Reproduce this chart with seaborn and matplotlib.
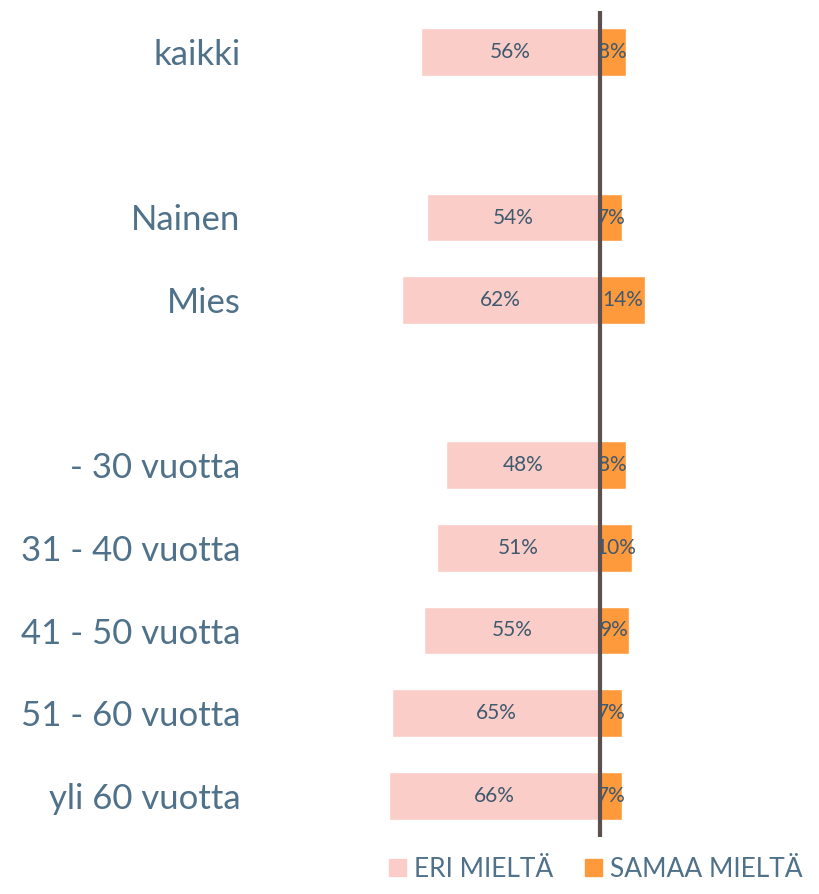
import numpy as np
import pandas as pd
import seaborn as sns
import matplotlib.pyplot as plt
from matplotlib.patches import Patch

# ---------------------------------data
categories = ["kaikki", "Nainen", "Mies", "- 30 vuotta", "31 - 40 vuotta",
              "41 - 50 vuotta", "51 - 60 vuotta", "yli 60 vuotta"]
row_pos = [0, 2, 3, 5, 6, 7, 8, 9]   # empty rows between the groups
eri = [56, 54, 62, 48, 51, 55, 65, 66]
samaa = [8, 7, 14, 8, 10, 9, 7, 7]
legend_labels = ["ERI MIELTÄ", "SAMAA MIELTÄ"]

pink = "#FBCDC9"
orange = "#FF9A3C"
text_col = "#4F7189"
num_col = "#3F5A6E"

df = pd.DataFrame({"cat": categories, "pos": row_pos,
                   "eri": [-v for v in eri], "samaa": samaa})

sns.set_style("white")
plt.rcParams['font.family'] = ['Lato', 'DejaVu Sans']

fig = plt.figure(figsize=(8.2, 8.94), dpi=100)
ax = fig.add_axes([260/820, 1 - 837/894, 560/820, 826/894])

sns.barplot(data=df, x="eri", y="pos", orient="h", native_scale=True,
            color=pink, width=0.58, saturation=1, ax=ax)
sns.barplot(data=df, x="samaa", y="pos", orient="h", native_scale=True,
            color=orange, width=0.58, saturation=1, ax=ax)

# px per percent ~3.2, zero line at x=600px
ax.set_xlim((260 - 600) / 3.2, (820 - 600) / 3.2)
ax.set_ylim(9.5, -0.5)
ax.axvline(0, color="#5E4F4F", lw=3, zorder=5)

for p, e, s in zip(row_pos, eri, samaa):
    ax.text(-e / 2, p, f"{e}%", ha="center", va="center", fontsize=15, color=num_col, zorder=6)
    ax.text(s / 2, p, f"{s}%", ha="center", va="center", fontsize=15, color=num_col, zorder=6)

ax.set_yticks(row_pos)
ax.set_yticklabels(categories, fontsize=25, color=text_col)
ax.tick_params(axis="y", length=0, pad=14)
ax.set_xticks([])
ax.set_xlabel("")
ax.set_ylabel("")
sns.despine(ax=ax, left=True, bottom=True)

handles = [Patch(color=pink), Patch(color=orange)]
fig.legend(handles, legend_labels, loc="lower left", bbox_to_anchor=(378/820, 0.002),
           ncol=2, frameon=False, fontsize=19, labelcolor=text_col,
           handlelength=0.65, handleheight=0.65, handletextpad=0.3, columnspacing=1.2,
           borderaxespad=0)

fig.savefig("out.png", dpi=100)
